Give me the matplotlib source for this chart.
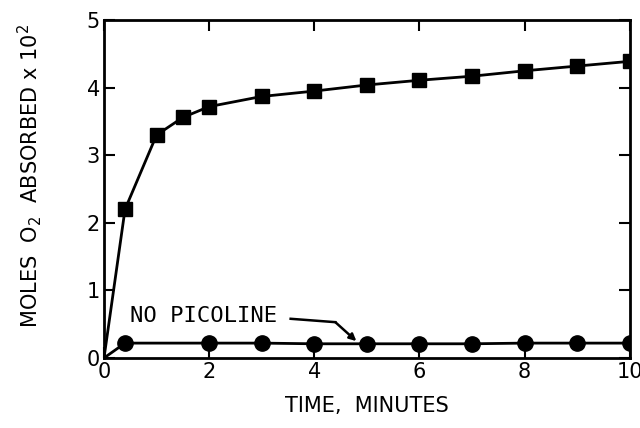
import matplotlib.pyplot as plt

# data
time_pic = [0, 0.4, 1, 1.5, 2, 3, 4, 5, 6, 7, 8, 9, 10]
o2_pic = [0, 2.2, 3.3, 3.56, 3.72, 3.87, 3.95, 4.04, 4.11, 4.17, 4.25, 4.32, 4.39]

time_nopic = [0, 0.4, 2, 3, 4, 5, 6, 7, 8, 9, 10]
o2_nopic = [0, 0.22, 0.22, 0.22, 0.21, 0.21, 0.21, 0.21, 0.22, 0.22, 0.22]

xticks = [0, 2, 4, 6, 8, 10]
yticks = [0, 1, 2, 3, 4, 5]

# leader line for the label
lead_x = [3.55, 4.4, 4.8]
lead_y = [0.58, 0.53, 0.25]

fig = plt.figure(figsize=(6.4, 4.28), dpi=100)
ax = fig.add_axes([0.1625, 0.1636, 0.8215, 0.7894])

ax.plot(time_pic, o2_pic, color='black', lw=2)
ax.plot(time_pic[1:], o2_pic[1:], 's', color='black', ms=10)
ax.plot(time_nopic, o2_nopic, color='black', lw=2)
ax.plot(time_nopic[1:], o2_nopic[1:], 'o', color='black', ms=11)

ax.text(0.5, 0.62, 'NO PICOLINE', fontsize=16, va='center', ha='left',
        family='DejaVu Sans Mono')
ax.plot(lead_x[:2], lead_y[:2], color='black', lw=1.8)
ax.annotate('', xy=(lead_x[2], lead_y[2]), xytext=(lead_x[1], lead_y[1]),
            arrowprops=dict(arrowstyle='-|>', color='black', lw=1.8,
                            mutation_scale=10, shrinkA=0, shrinkB=0))

ax.set_xlim(0, 10)
ax.set_ylim(0, 5)
ax.set_xticks(xticks)
ax.set_yticks(yticks)
ax.tick_params(direction='in', top=True, right=True, length=8, width=1.5,
               labelsize=15, pad=3)
for s in ax.spines.values():
    s.set_linewidth(2)

ax.set_xlabel('TIME,  MINUTES', fontsize=15, labelpad=10)
ax.set_ylabel('MOLES  O$_2$  ABSORBED x 10$^2$', fontsize=15)
ax.yaxis.set_label_coords(-0.115, 0.54)

plt.savefig('out.png', dpi=100)
